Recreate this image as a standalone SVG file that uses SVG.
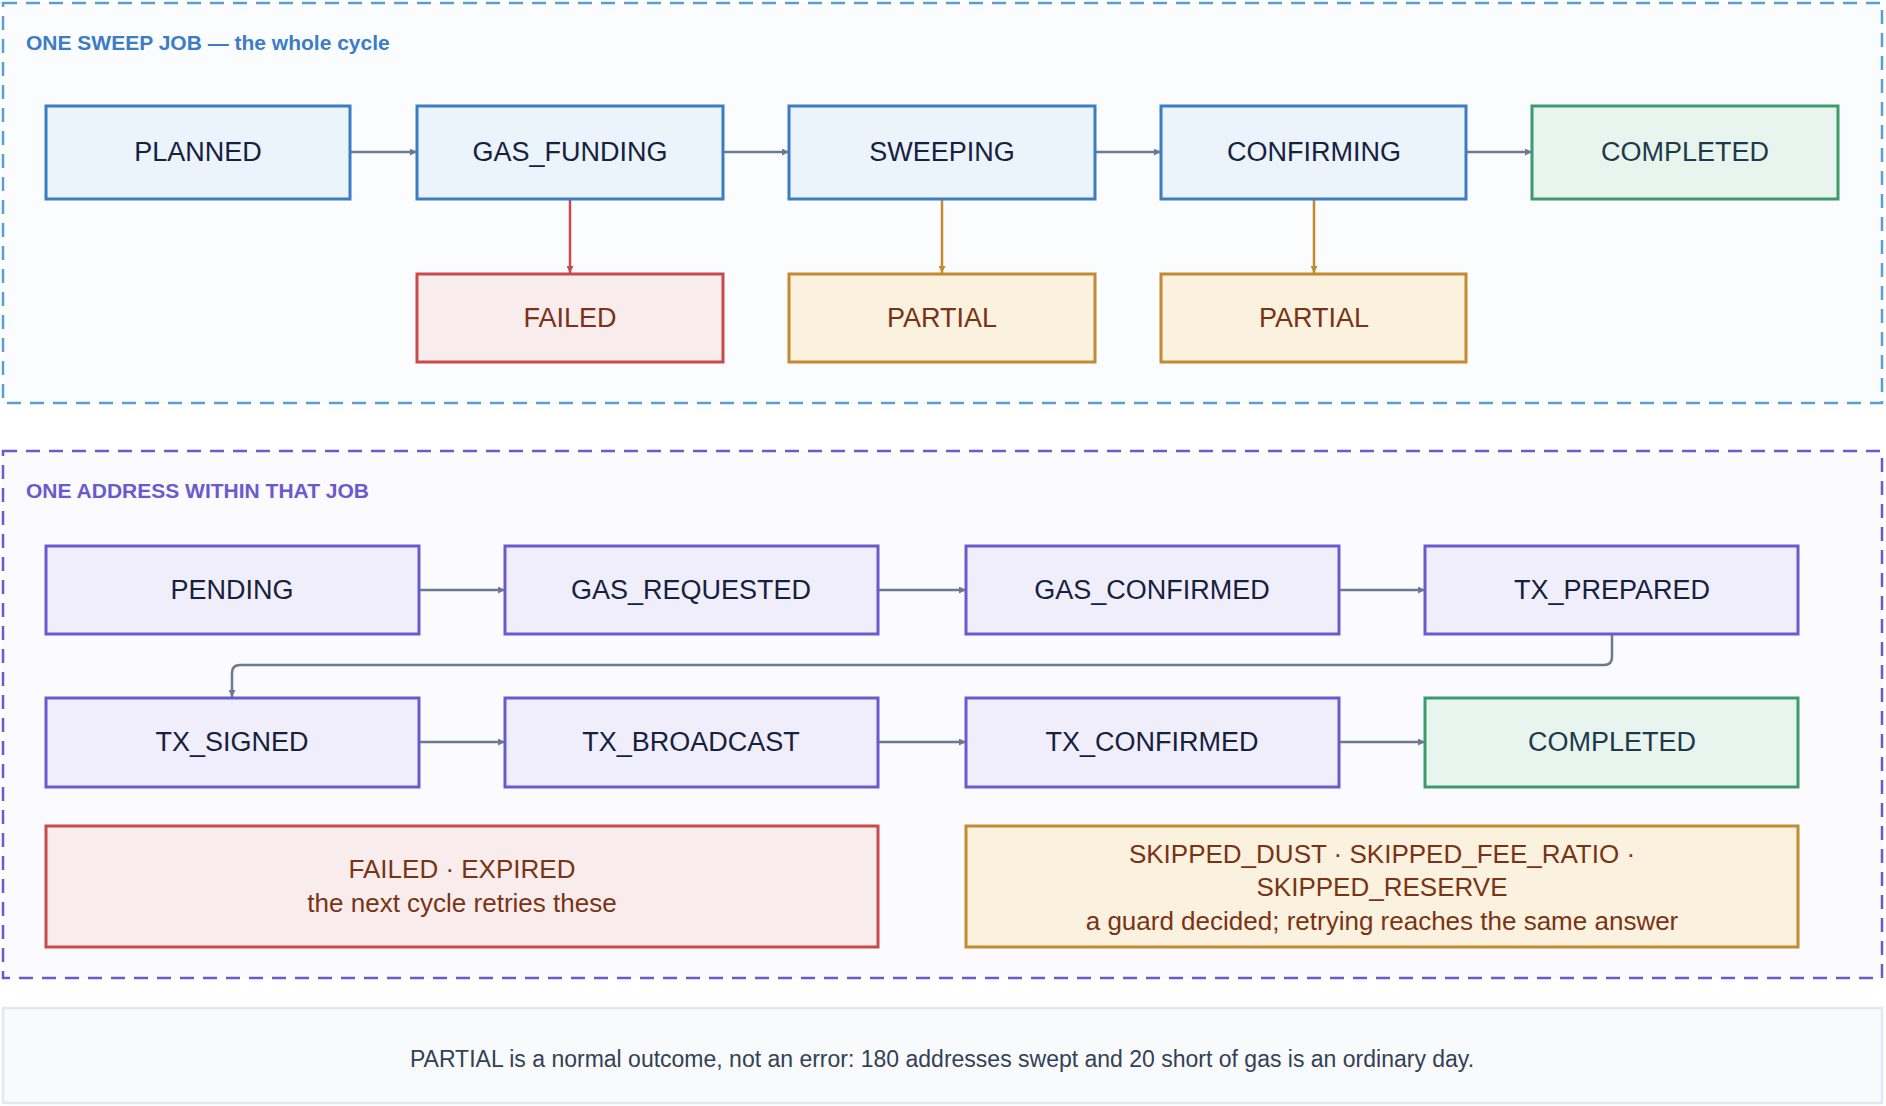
<svg xmlns="http://www.w3.org/2000/svg" width="1886" height="1106" viewBox="0 0 1886 1106">
<style>
text{font-family:"Liberation Sans",Arial,sans-serif;text-anchor:middle;dominant-baseline:central}
.n{font-size:27px;fill:#16213e}
.b rect{fill:#ebf3fb;stroke:#3b7dc4;stroke-width:3}
.p rect{fill:#f0eefb;stroke:#6a5acd;stroke-width:3}
.g rect{fill:#e8f5ee;stroke:#3d9a6c;stroke-width:3}
.r rect{fill:#f9ecec;stroke:#c94a4a;stroke-width:3}
.a rect{fill:#faf1de;stroke:#c48a30;stroke-width:3}
.r text,.a text{fill:#7a3315}
.g text{fill:#1e3a4a}
.c{stroke:#6b7a90;stroke-width:2.5;fill:none}
</style>
<defs>
<marker id="ag" viewBox="0 0 10 10" refX="10" refY="5" markerWidth="7" markerHeight="7" markerUnits="userSpaceOnUse" orient="auto"><path d="M0,0L10,5L0,10z" fill="#6b7a90"/></marker>
<marker id="ar" viewBox="0 0 10 10" refX="10" refY="5" markerWidth="7" markerHeight="7" markerUnits="userSpaceOnUse" orient="auto"><path d="M0,0L10,5L0,10z" fill="#c94a4a"/></marker>
<marker id="aa" viewBox="0 0 10 10" refX="10" refY="5" markerWidth="7" markerHeight="7" markerUnits="userSpaceOnUse" orient="auto"><path d="M0,0L10,5L0,10z" fill="#c48a30"/></marker>
</defs>
<rect width="1886" height="1106" fill="#ffffff"/>
<g id="group-job">
<rect x="3" y="3" width="1879" height="400" fill="#fbfcfe" stroke="#5a9fd4" stroke-width="2.5" stroke-dasharray="14 9"/>
<text x="26" y="42" style="text-anchor:start;font-size:21px;font-weight:bold;fill:#3b7dc4">ONE SWEEP JOB — the whole cycle</text>
</g>
<g id="group-address">
<rect x="3" y="451" width="1879" height="527" fill="#fbfafe" stroke="#6a5acd" stroke-width="2.5" stroke-dasharray="14 9"/>
<text x="26" y="490" style="text-anchor:start;font-size:21px;font-weight:bold;fill:#6a5acd">ONE ADDRESS WITHIN THAT JOB</text>
</g>
<g id="connectors">
<path class="c" d="M350 152H417" marker-end="url(#ag)"/>
<path class="c" d="M723 152H789" marker-end="url(#ag)"/>
<path class="c" d="M1095 152H1161" marker-end="url(#ag)"/>
<path class="c" d="M1466 152H1532" marker-end="url(#ag)"/>
<path d="M570 199V273" stroke="#c94a4a" stroke-width="2.5" marker-end="url(#ar)"/>
<path d="M942 199V273" stroke="#c48a30" stroke-width="2.5" marker-end="url(#aa)"/>
<path d="M1314 199V273" stroke="#c48a30" stroke-width="2.5" marker-end="url(#aa)"/>
<path class="c" d="M419 590H505" marker-end="url(#ag)"/>
<path class="c" d="M878 590H966" marker-end="url(#ag)"/>
<path class="c" d="M1339 590H1425" marker-end="url(#ag)"/>
<path class="c" d="M1612 634V657Q1612 665 1604 665H240Q232 665 232 673V697" marker-end="url(#ag)"/>
<path class="c" d="M419 742H505" marker-end="url(#ag)"/>
<path class="c" d="M878 742H966" marker-end="url(#ag)"/>
<path class="c" d="M1339 742H1425" marker-end="url(#ag)"/>
</g>
<g id="planned" class="b"><rect x="46" y="106" width="304" height="93"/><text class="n" x="198" y="152">PLANNED</text></g>
<g id="gas_funding" class="b"><rect x="417" y="106" width="306" height="93"/><text class="n" x="570" y="152">GAS_FUNDING</text></g>
<g id="sweeping" class="b"><rect x="789" y="106" width="306" height="93"/><text class="n" x="942" y="152">SWEEPING</text></g>
<g id="confirming" class="b"><rect x="1161" y="106" width="305" height="93"/><text class="n" x="1314" y="152">CONFIRMING</text></g>
<g id="completed-job" class="g"><rect x="1532" y="106" width="306" height="93"/><text class="n" x="1685" y="152">COMPLETED</text></g>
<g id="failed-job" class="r"><rect x="417" y="274" width="306" height="88"/><text class="n" x="570" y="318">FAILED</text></g>
<g id="partial-1" class="a"><rect x="789" y="274" width="306" height="88"/><text class="n" x="942" y="318">PARTIAL</text></g>
<g id="partial-2" class="a"><rect x="1161" y="274" width="305" height="88"/><text class="n" x="1314" y="318">PARTIAL</text></g>
<g id="pending" class="p"><rect x="46" y="546" width="373" height="88"/><text class="n" x="232" y="590">PENDING</text></g>
<g id="gas_requested" class="p"><rect x="505" y="546" width="373" height="88"/><text class="n" x="691" y="590">GAS_REQUESTED</text></g>
<g id="gas_confirmed" class="p"><rect x="966" y="546" width="373" height="88"/><text class="n" x="1152" y="590">GAS_CONFIRMED</text></g>
<g id="tx_prepared" class="p"><rect x="1425" y="546" width="373" height="88"/><text class="n" x="1612" y="590">TX_PREPARED</text></g>
<g id="tx_signed" class="p"><rect x="46" y="698" width="373" height="89"/><text class="n" x="232" y="742">TX_SIGNED</text></g>
<g id="tx_broadcast" class="p"><rect x="505" y="698" width="373" height="89"/><text class="n" x="691" y="742">TX_BROADCAST</text></g>
<g id="tx_confirmed" class="p"><rect x="966" y="698" width="373" height="89"/><text class="n" x="1152" y="742">TX_CONFIRMED</text></g>
<g id="completed-addr" class="g"><rect x="1425" y="698" width="373" height="89"/><text class="n" x="1612" y="742">COMPLETED</text></g>
<g id="failed-expired" class="r"><rect x="46" y="826" width="832" height="121"/><text class="n" x="462" y="869" style="font-size:26px">FAILED · EXPIRED</text><text class="n" x="462" y="903" style="font-size:26px">the next cycle retries these</text></g>
<g id="skipped" class="a"><rect x="966" y="826" width="832" height="121"/><text class="n" x="1382" y="854" style="font-size:26px">SKIPPED_DUST · SKIPPED_FEE_RATIO ·</text><text class="n" x="1382" y="887" style="font-size:26px">SKIPPED_RESERVE</text><text class="n" x="1382" y="921" style="font-size:26px">a guard decided; retrying reaches the same answer</text></g>
<g id="note"><rect x="3" y="1008" width="1879" height="95" fill="#f8fafc" stroke="#e2e8f0" stroke-width="2.5"/><text x="942" y="1059" style="font-size:23px;fill:#334155">PARTIAL is a normal outcome, not an error: 180 addresses swept and 20 short of gas is an ordinary day.</text></g>
</svg>
